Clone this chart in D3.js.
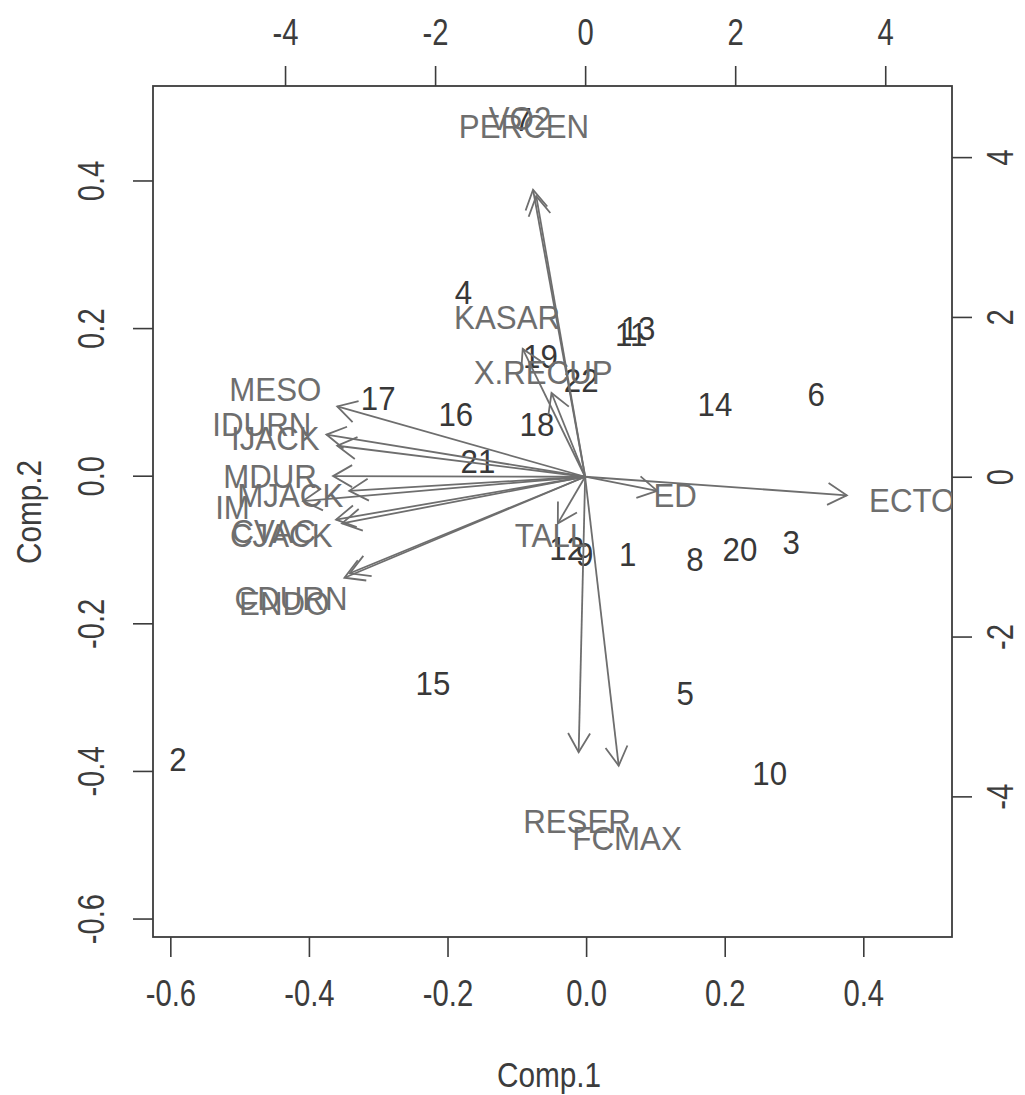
<!DOCTYPE html>
<html><head><meta charset="utf-8">
<script src="https://cdn.jsdelivr.net/npm/d3@7"></script>
<style>body{margin:0;background:#fff}svg{display:block}</style>
</head><body>
<svg id="c" width="1025" height="1095"></svg>
<script>
// Observations (scores, bottom/left axes)
const obsLabels = ["1","2","3","4","5","6","7","8","9","10","11","12","13","14","15","16","17","18","19","20","21","22"];
const comp1 = [0.060,-0.589,0.296,-0.177,0.143,0.332,-0.091,0.157,-0.002,0.265,0.065,-0.028,0.075,0.186,-0.221,-0.188,-0.300,-0.071,-0.066,0.222,-0.156,-0.007];
const comp2 = [-0.106,-0.383,-0.089,0.249,-0.294,0.111,0.484,-0.112,-0.106,-0.403,0.193,-0.098,0.200,0.097,-0.281,0.084,0.106,0.071,0.163,-0.099,0.020,0.130];

// Variables (loadings, top/right axes)
const varNames = ["MESO","IDURN","IJACK","MDUR","MJACK","IM","CVAC","CJACK","CDURN","ENDO","ECTO","ED","TALL","RESER","FCMAX","VO2","PERCEN","KASAR","X.RECUP"];
const load1 = [-4.13,-4.31,-4.13,-4.20,-3.93,-4.70,-4.15,-4.05,-3.92,-4.01,4.36,1.20,-0.455,-0.108,0.559,-0.868,-0.815,-1.04,-0.56];
const load2 = [1.10,0.66,0.485,0.01,-0.22,-0.38,-0.67,-0.73,-1.51,-1.58,-0.29,-0.22,-0.73,-4.31,-4.52,4.49,4.39,2.00,1.31];

const ticksMain = [-0.6,-0.4,-0.2,0.0,0.2,0.4];
const ticksSec = [-4,-2,0,2,4];

const svg = d3.select("#c");
const L = 153, R = 952, T = 86, B = 937;
const x = d3.scaleLinear().domain([-0.625,0.528]).range([L,R]);
const y = d3.scaleLinear().domain([-0.625,0.528]).range([B,T]);
const xs = d3.scaleLinear().domain([-5.76,4.89]).range([L,R]);
const ys = d3.scaleLinear().domain([-5.76,4.89]).range([B,T]);

const FONT = "'Liberation Sans', Arial, sans-serif";
const axisCol = "#3c3c3c";
const varCol = "#6e6e6e";
const obsCol = "#383838";

svg.append("defs").append("clipPath").attr("id","clip")
  .append("rect").attr("x",L).attr("y",T).attr("width",R-L).attr("height",B-T);

const fmtMain = d => (d<0?"-":"") + Math.abs(d).toFixed(1);
const fmtSec = d => (d<0?"-":"") + Math.abs(d);

function styleAxis(g){
  g.select(".domain").remove();
  g.selectAll(".tick line").attr("stroke",axisCol).attr("stroke-width",1.6);
  g.selectAll(".tick text").attr("fill",axisCol).style("font-family",FONT).style("font-size","37px")
    .attr("x",null).attr("y",null).attr("text-anchor","middle").attr("dy","0.36em");
}

const gB = svg.append("g").attr("transform",`translate(0,${B})`)
  .call(d3.axisBottom(x).tickValues(ticksMain).tickSize(20).tickFormat(fmtMain));
styleAxis(gB);
gB.selectAll(".tick text").attr("transform","translate(0,56) scale(0.79,1)");

const gT = svg.append("g").attr("transform",`translate(0,${T})`)
  .call(d3.axisTop(xs).tickValues(ticksSec).tickSize(20).tickFormat(fmtSec));
styleAxis(gT);
gT.selectAll(".tick text").attr("transform","translate(0,-54.5) scale(0.79,1)");

const gL = svg.append("g").attr("transform",`translate(${L},0)`)
  .call(d3.axisLeft(y).tickValues(ticksMain).tickSize(20).tickFormat(fmtMain));
styleAxis(gL);
gL.selectAll(".tick text").attr("transform","translate(-62,0) rotate(-90) scale(0.79,1)");

const gR = svg.append("g").attr("transform",`translate(${R},0)`)
  .call(d3.axisRight(ys).tickValues(ticksSec).tickSize(20).tickFormat(fmtSec));
styleAxis(gR);
gR.selectAll(".tick text").attr("transform","translate(48,0) rotate(-90) scale(0.79,1)");

// Box
svg.append("rect").attr("x",L).attr("y",T).attr("width",R-L).attr("height",B-T)
  .attr("fill","none").attr("stroke",axisCol).attr("stroke-width",1.8);

// Axis titles
svg.append("text").attr("transform","translate(549,1074) scale(0.85,1)")
  .attr("text-anchor","middle").attr("dy","0.36em").attr("fill",axisCol)
  .style("font-family",FONT).style("font-size","35px").text("Comp.1");
svg.append("text").attr("transform","translate(28,512) rotate(-90) scale(0.85,1)")
  .attr("text-anchor","middle").attr("dy","0.36em").attr("fill",axisCol)
  .style("font-family",FONT).style("font-size","35px").text("Comp.2");

const plot = svg.append("g").attr("clip-path","url(#clip)");

// Observation labels
const obs = obsLabels.map((l,i)=>({l, a:comp1[i], b:comp2[i]}));
plot.selectAll("text.obs").data(obs).join("text").attr("class","obs")
  .attr("transform",d=>`translate(${x(d.a)},${y(d.b)}) scale(0.92,1)`)
  .attr("text-anchor","middle").attr("dy","0.36em").attr("fill",obsCol)
  .style("font-family",FONT).style("font-size","34px").text(d=>d.l);

// Variable arrows (to 0.8 * loading) and labels (at loading)
const vars = varNames.map((n,i)=>({n, a:load1[i], b:load2[i]}));
const ox = xs(0), oy = ys(0);
const head = 22, ang = Math.PI/6;
const ag = plot.append("g").attr("stroke",varCol).attr("stroke-width",1.8).attr("fill","none");
vars.forEach(d=>{
  const tx = xs(0.8*d.a), ty = ys(0.8*d.b);
  ag.append("line").attr("x1",ox).attr("y1",oy).attr("x2",tx).attr("y2",ty);
  const th = Math.atan2(ty-oy, tx-ox);
  const p1 = [tx - head*Math.cos(th-ang), ty - head*Math.sin(th-ang)];
  const p2 = [tx - head*Math.cos(th+ang), ty - head*Math.sin(th+ang)];
  ag.append("path").attr("d",`M${p1[0]},${p1[1]}L${tx},${ty}L${p2[0]},${p2[1]}`);
});
plot.selectAll("text.var").data(vars).join("text").attr("class","var")
  .attr("transform",d=>`translate(${xs(d.a)},${ys(d.b)}) scale(0.92,1)`)
  .attr("text-anchor","middle").attr("dy","0.36em").attr("fill",varCol)
  .style("font-family",FONT).style("font-size","34px").text(d=>d.n);
</script>
</body></html>
